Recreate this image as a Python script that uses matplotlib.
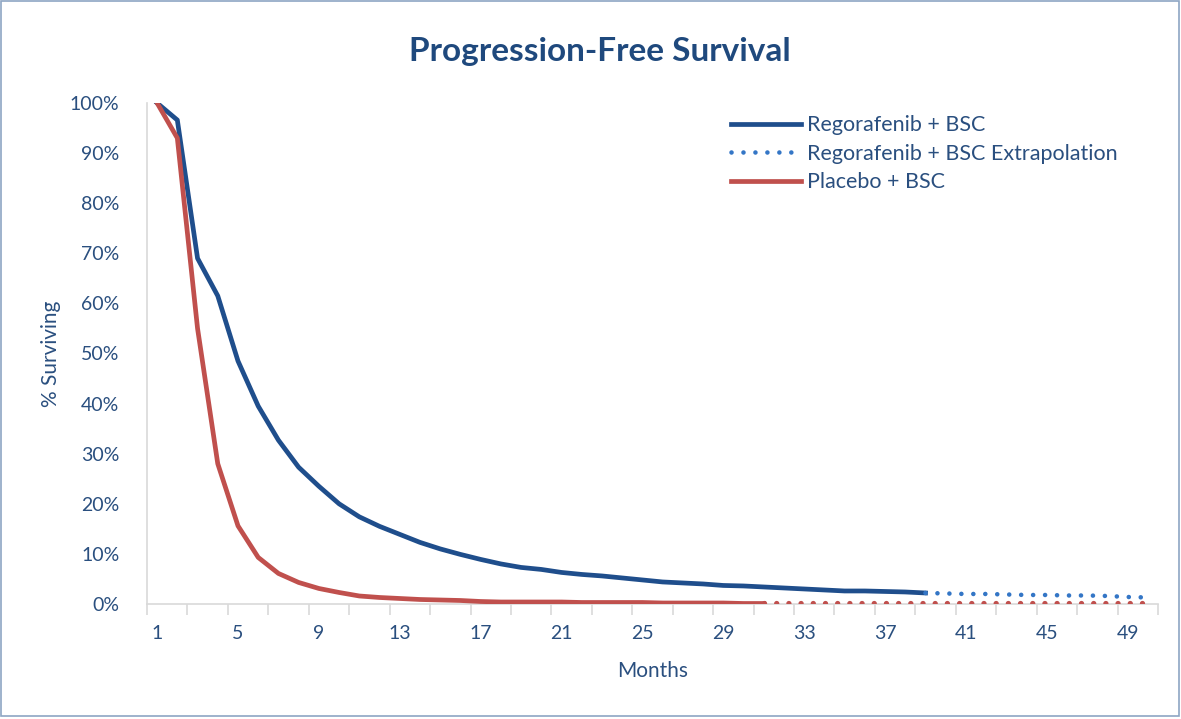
import numpy as np
import matplotlib
matplotlib.use('Agg')
import matplotlib.pyplot as plt
from matplotlib.patches import Rectangle

plt.rcParams['font.family'] = ['Lato', 'DejaVu Sans']

# Data (% surviving by month)
months = list(range(1, 51))
rego = [100, 96.6, 69.0, 61.5, 48.5, 39.5, 32.7, 27.3, 23.5, 20.0,
        17.4, 15.5, 13.9, 12.3, 11.0, 9.9, 8.9, 8.0, 7.3, 6.9,
        6.3, 5.9, 5.6, 5.2, 4.8, 4.4, 4.2, 4.0, 3.7, 3.6,
        3.4, 3.2, 3.0, 2.8, 2.6, 2.6, 2.5, 2.4, 2.2]
rego_ext = [2.2, 2.1, 2.0, 2.0, 1.9, 1.8, 1.8, 1.7, 1.7, 1.6, 1.4, 1.3]
placebo = [100, 93, 55, 28, 15.6, 9.3, 6.1, 4.3, 3.1, 2.3,
           1.6, 1.3, 1.1, 0.9, 0.8, 0.7, 0.5, 0.4, 0.4, 0.4,
           0.4, 0.3, 0.3, 0.3, 0.3, 0.2, 0.2, 0.2, 0.2, 0.1, 0.1]
placebo_ext = [0.1, 0.1, 0.1, 0.1, 0.1, 0.1, 0.1, 0.1, 0.1, 0.1,
               0.1, 0.1, 0.1, 0.1, 0.1, 0.1, 0.1, 0.1, 0.1, 0.1]
tick_labels = [1, 5, 9, 13, 17, 21, 25, 29, 33, 37, 41, 45, 49]

navy = '#1F4E8C'
dotblue = '#3476C6'
red = '#C0504D'
txt = '#2A4F7F'

fig = plt.figure(figsize=(11.81, 7.19), dpi=100)
ax = fig.add_axes([147/1181, 1 - 604/719, (1158-147)/1181, (604-103)/719])

x_rego = np.array(months[:len(rego)])
x_rego_ext = np.array(months[len(rego)-1:])
x_pl = np.array(months[:len(placebo)])
x_pl_ext = np.array(months[len(placebo)-1:])

ax.plot(x_rego, np.array(rego)/100, color=navy, lw=3.4, label='Regorafenib + BSC',
        solid_joinstyle='round')
ax.plot(x_rego_ext, np.array(rego_ext)/100, color=dotblue, lw=3.3, dashes=(0.01, 2.6),
        dash_capstyle='round', label='Regorafenib + BSC Extrapolation')
ax.plot(x_pl, np.array(placebo)/100, color=red, lw=3.4, label='Placebo + BSC',
        solid_joinstyle='round', zorder=3)
ax.plot(x_pl_ext, np.array(placebo_ext)/100, color=red, lw=3.8, dashes=(0.01, 2.3),
        dash_capstyle='round', zorder=3)

ax.set_xlim(0.5, 50.5)
ax.set_ylim(0, 1)
ax.set_yticks(np.arange(0, 1.01, 0.1))
ax.set_yticklabels([f'{int(round(v*100))}%' for v in np.arange(0, 1.01, 0.1)])
ax.set_xticks(np.arange(0.5, 51, 2), minor=False)
ax.set_xticklabels([])
ax.set_xticks(tick_labels, minor=True)
ax.set_xticklabels([str(t) for t in tick_labels], minor=True)
ax.tick_params(axis='x', which='major', length=8, color='#D9D9D9', width=1.2)
ax.tick_params(axis='x', which='minor', length=0, pad=15, labelsize=14, labelcolor=txt)
ax.tick_params(axis='y', length=0, pad=20, labelsize=14, labelcolor=txt)

for s in ['top', 'right']:
    ax.spines[s].set_visible(False)
for s in ['left', 'bottom']:
    ax.spines[s].set_color('#D9D9D9')
    ax.spines[s].set_linewidth(1.2)

ax.set_xlabel('Months', fontsize=15, color=txt, labelpad=14)
ax.set_ylabel('% Surviving', fontsize=15, color=txt, labelpad=6)
fig.text(0.508, 0.928, 'Progression-Free Survival', ha='center', va='center',
         fontsize=24, fontweight='bold', color='#1F497D')

leg = ax.legend(loc='upper left', bbox_to_anchor=(0.569, 0.993), frameon=False,
                fontsize=15.5, handlelength=3.25, handletextpad=0.28, labelspacing=0.4,
                borderaxespad=0)
for t in leg.get_texts():
    t.set_color(txt)

fig.patches.append(Rectangle((0.001, 0.004), 0.997, 0.994, transform=fig.transFigure,
                             fill=False, edgecolor='#8EA6C4', lw=1.2))

fig.savefig('out.png', dpi=100)
